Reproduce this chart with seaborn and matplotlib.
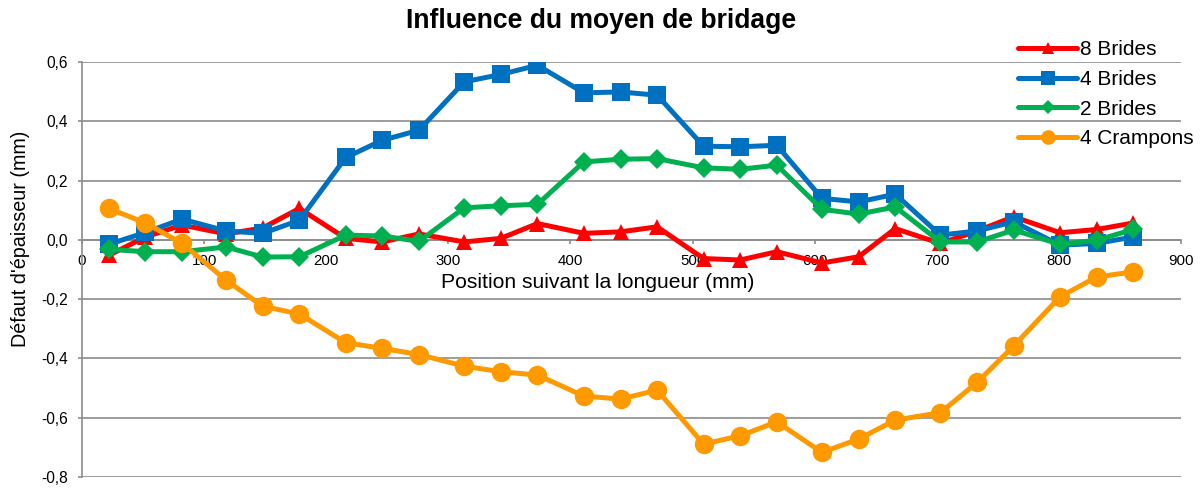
import matplotlib
matplotlib.use("Agg")
import matplotlib.pyplot as plt
import numpy as np
import pandas as pd
import seaborn as sns

# Measurement positions along the part (mm)
position = [22, 52, 82, 118, 148, 178, 216, 246, 276, 313, 343, 373, 411, 441,
            471, 509, 539, 569, 606, 636, 666, 703, 733, 763, 801, 831, 861]

# Thickness defect (mm) for each clamping setup
brides_8 = [-0.052, 0.010, 0.050, 0.020, 0.040, 0.106, 0.005, -0.007, 0.020,
            -0.007, 0.005, 0.055, 0.022, 0.027, 0.044, -0.063, -0.068, -0.040,
            -0.078, -0.057, 0.038, -0.012, 0.030, 0.078, 0.024, 0.035, 0.057]
brides_4 = [-0.015, 0.025, 0.070, 0.030, 0.022, 0.066, 0.278, 0.336, 0.370,
            0.533, 0.558, 0.589, 0.496, 0.499, 0.488, 0.316, 0.314, 0.319,
            0.140, 0.128, 0.154, 0.016, 0.030, 0.061, -0.018, -0.012, 0.010]
brides_2 = [-0.032, -0.040, -0.040, -0.024, -0.058, -0.057, 0.016, 0.013, -0.005,
            0.108, 0.115, 0.120, 0.263, 0.272, 0.274, 0.243, 0.238, 0.252,
            0.103, 0.087, 0.111, -0.007, -0.007, 0.033, -0.015, -0.001, 0.035]
crampons_4 = [0.106, 0.057, -0.012, -0.136, -0.224, -0.250, -0.347, -0.366, -0.387,
              -0.426, -0.445, -0.456, -0.527, -0.537, -0.507, -0.689, -0.661, -0.614,
              -0.717, -0.672, -0.608, -0.583, -0.481, -0.358, -0.192, -0.125, -0.108]

series_names = ["8 Brides", "4 Brides", "2 Brides", "4 Crampons"]
series_values = [brides_8, brides_4, brides_2, crampons_4]

y_ticks = [-0.8, -0.6, -0.4, -0.2, 0.0, 0.2, 0.4, 0.6]
x_ticks = [0, 100, 200, 300, 400, 500, 600, 700, 800, 900]

df = pd.concat(
    [pd.DataFrame({"position": position, "defaut": vals, "serie": name})
     for name, vals in zip(series_names, series_values)],
    ignore_index=True,
)

sns.set_style("white")
plt.rcParams["font.family"] = ["Liberation Sans", "DejaVu Sans"]
plt.rcParams["text.color"] = "black"

styles = {
    "8 Brides": dict(color="#FF0000", marker="^", markersize=11),
    "4 Brides": dict(color="#0070C0", marker="s", markersize=13.5),
    "2 Brides": dict(color="#00B050", marker="D", markersize=10),
    "4 Crampons": dict(color="#FF9900", marker="o", markersize=14),
}

W, H = 1203, 488
fig = plt.figure(figsize=(W / 100, H / 100), dpi=100)
ax = fig.add_axes([82 / W, 1 - 477 / H, (1181 - 82) / W, (477 - 62) / H])

grid_color = "#8C8C8C"
for name in series_names:
    st = styles[name]
    sns.lineplot(
        data=df[df["serie"] == name], x="position", y="defaut",
        ax=ax, sort=False, estimator=None, color=st["color"],
        marker=st["marker"], markersize=st["markersize"],
        markeredgewidth=0, linewidth=3.6, label=name,
    )

ax.set_xlim(0, 900)
ax.set_ylim(-0.8, 0.6)
ax.set_xticks(x_ticks)
ax.set_yticks(y_ticks)
ax.set_xticklabels([str(v) for v in x_ticks])
ax.set_yticklabels([f"{v:.1f}".replace(".", ",") for v in y_ticks])
ax.yaxis.grid(True, color=grid_color, linewidth=1.2)
ax.xaxis.grid(False)
ax.set_axisbelow(True)

for side in ["top", "right"]:
    ax.spines[side].set_visible(False)
ax.spines["left"].set_color(grid_color)
ax.spines["left"].set_linewidth(1.2)
ax.spines["bottom"].set_position(("data", 0))
ax.spines["bottom"].set_color(grid_color)
ax.spines["bottom"].set_linewidth(1.2)
ax.spines["bottom"].set_zorder(0.5)

ax.tick_params(axis="y", direction="out", length=3, width=1.2, color=grid_color,
               labelsize=11.2, pad=7, left=True, labelcolor="black")
ax.tick_params(axis="x", direction="out", length=3, width=1.2, color=grid_color,
               labelsize=10.8, pad=7, bottom=True, labelcolor="black")

ax.set_xlabel("")
ax.set_ylabel("")
fig.text(598 / W, 1 - 282 / H, "Position suivant la longueur (mm)",
         ha="center", va="center", fontsize=15.2, color="black")
fig.text(21 / W, 1 - 239 / H, "Défaut d'épaisseur (mm)", rotation=90,
         ha="center", va="center", fontsize=14.2, color="black")
fig.text(601 / W, 1 - 21 / H, "Influence du moyen de bridage", ha="center",
         va="center", fontsize=19.1, fontweight="bold", color="black")

handles, labels = ax.get_legend_handles_labels()
leg = ax.legend(handles, labels, loc="upper left",
                bbox_to_anchor=(1018 / W, 1 - 40 / H), bbox_transform=fig.transFigure,
                frameon=False, fontsize=15, handlelength=2.85, handletextpad=0.15,
                labelspacing=0.52, borderpad=0, borderaxespad=0, markerscale=0.75)
for t in leg.get_texts():
    t.set_color("black")

fig.savefig("out.png", dpi=100)
